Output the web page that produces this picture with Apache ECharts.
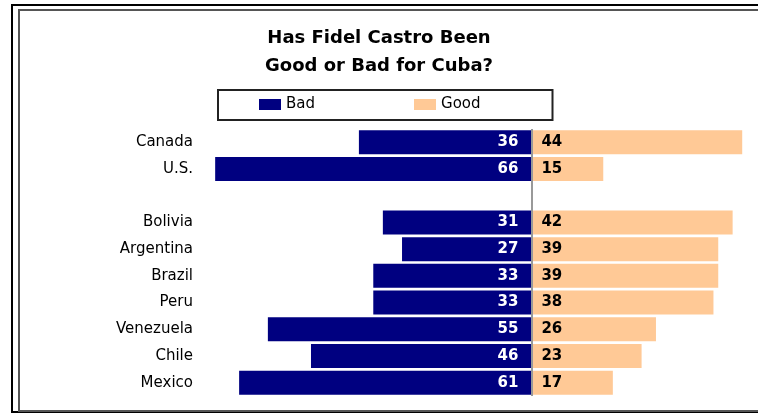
<!DOCTYPE html>
<html>
<head>
<meta charset="utf-8">
<script src="https://cdn.jsdelivr.net/npm/echarts@6/dist/echarts.min.js"></script>
<style>
    html, body { margin: 0; padding: 0; background: #fff; }
    #chart { width: 758px; height: 414px; }
</style>
</head>
<body>
<div id="chart"></div>
<script>
// rows top to bottom, blank row separates the two groups
var countries = ['Canada', 'U.S.', '', 'Bolivia', 'Argentina', 'Brazil', 'Peru', 'Venezuela', 'Chile', 'Mexico'];
var bad = [36, 66, null, 31, 27, 33, 33, 55, 46, 61];
var good = [44, 15, null, 42, 39, 39, 38, 26, 23, 17];

(function () {
    var font = '"DejaVu Sans", Verdana, sans-serif';
    var myChart = echarts.init(document.getElementById('chart'));

    myChart.setOption({
        animation: false,
        title: {
            text: 'Has Fidel Castro Been\nGood or Bad for Cuba?',
            left: 'center',
            top: 24,
            padding: [0, 0, 0, 22],
            textStyle: {
                fontFamily: font,
                fontWeight: 'bold',
                fontSize: 18,
                lineHeight: 28,
                color: '#000'
            }
        },
        legend: {
            left: 218,
            top: 90,
            padding: [7, 72, 8, 41],
            itemGap: 99,
            itemWidth: 22,
            itemHeight: 11,
            icon: 'rect',
            borderColor: '#222',
            borderWidth: 2,
            textStyle: {
                fontFamily: font,
                fontSize: 15,
                lineHeight: 15,
                color: '#000'
            },
            data: ['Bad', 'Good']
        },
        grid: {
            left: 196,
            right: 11,
            top: 129,
            bottom: 18,
            containLabel: false
        },
        xAxis: {
            type: 'value',
            min: -70,
            max: 45,
            show: false
        },
        yAxis: {
            type: 'category',
            inverse: true,
            data: countries,
            axisLine: { show: false },
            axisTick: { show: false },
            splitLine: { show: false },
            axisLabel: {
                margin: 3,
                fontFamily: font,
                fontSize: 15,
                color: '#000'
            }
        },
        graphic: [{
            type: 'rect',
            shape: { x: 12, y: 5, width: 760, height: 407 },
            style: { fill: 'none', stroke: '#000', lineWidth: 2 }
        }, {
            type: 'rect',
            shape: { x: 19, y: 10, width: 760, height: 401 },
            style: { fill: 'none', stroke: '#555', lineWidth: 2 }
        }],
        series: [
            {
                name: 'Bad',
                type: 'bar',
                stack: 'total',
                barWidth: 24,
                itemStyle: { color: '#000080' },
                data: bad.map(function (v) {
                    return v == null ? null : -v;
                }),
                label: {
                    show: true,
                    position: 'insideRight',
                    distance: 13,
                    fontFamily: font,
                    fontWeight: 'bold',
                    fontSize: 15,
                    color: '#fff',
                    formatter: function (p) {
                        return Math.abs(p.value);
                    }
                },
                markLine: {
                    silent: true,
                    symbol: 'none',
                    label: { show: false },
                    lineStyle: { color: '#999', type: 'solid', width: 2 },
                    data: [{ xAxis: 0 }]
                }
            },
            {
                name: 'Good',
                type: 'bar',
                stack: 'total',
                barWidth: 24,
                itemStyle: { color: '#ffc996' },
                data: good,
                label: {
                    show: true,
                    position: 'insideLeft',
                    distance: 10,
                    fontFamily: font,
                    fontWeight: 'bold',
                    fontSize: 15,
                    color: '#000'
                }
            }
        ]
    });
})();
</script>
</body>
</html>
